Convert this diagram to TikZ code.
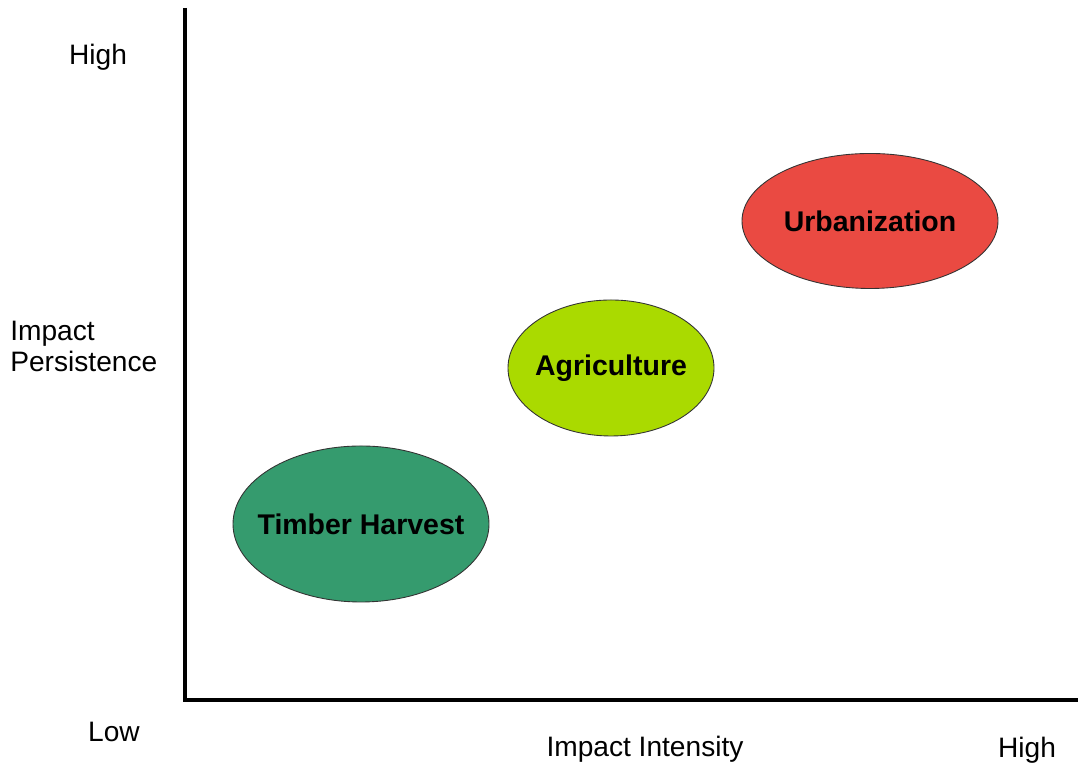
\documentclass[tikz,border=0pt]{standalone}
\usepackage{fontspec}
\setmainfont{Liberation Sans}
\usetikzlibrary{shapes.geometric}

\definecolor{urbanred}{RGB}{234,74,66}
\definecolor{agrigreen}{RGB}{170,218,0}
\definecolor{timbergreen}{RGB}{53,155,110}

\tikzset{
    blob/.style={ellipse, draw=black!80, line width=0.5pt, inner xsep=-0.5cm, inner ysep=0pt,
        font=\fontsize{16.2}{19}\selectfont\bfseries},
    axislabel/.style={font=\fontsize{16}{17.6}\selectfont, inner sep=0pt}
}

\begin{document}
\begin{tikzpicture}
    \newcommand{\ox}{3.7}
    \newcommand{\oy}{1.34}
    \useasboundingbox (0,0) rectangle (21.56,15.34);

    \coordinate (top) at (\ox,15.18);
    \coordinate (corner) at (\ox,\oy);
    \coordinate (right) at (21.56,\oy);
    \draw [line width=2.4pt] (top) -- (corner) -- (right);

    \node [axislabel] (yhigh) at (1.96,14.2) {High};
    \node [axislabel, align=left, anchor=west] (ylabel) at (0.2,8.41) {Impact\\Persistence};
    \node [axislabel] (ylow) at (2.28,0.7) {Low};
    \node [axislabel] (xlabel) at (12.9,0.36) {Impact Intensity};
    \node [axislabel] (xhigh) at (20.54,0.34) {High};

    \node [blob, fill=urbanred, minimum width=5.12cm, minimum height=2.7cm] (urban) at (17.4,10.92) {Urbanization};
    \node [blob, fill=agrigreen, minimum width=4.12cm, minimum height=2.72cm] (agri) at (12.22,7.98) {Agriculture};
    \node [blob, fill=timbergreen, minimum width=5.12cm, minimum height=3.12cm] (timber) at (7.22,4.86) {Timber Harvest};

\end{tikzpicture}
\end{document}
